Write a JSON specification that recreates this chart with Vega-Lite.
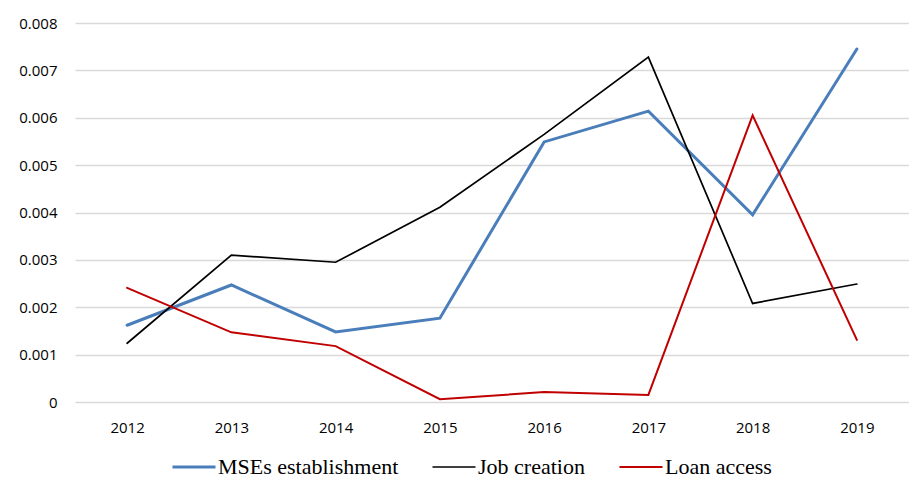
{
  "$schema": "https://vega.github.io/schema/vega-lite/v6.json",
  "width": 834,
  "height": 379,
  "autosize": {"type": "none"},
  "padding": {"left": 75, "top": 23, "right": 0, "bottom": 77},
  "background": "white",
  "config": {"view": {"stroke": null}},
  "data": {"values": [
    {"year": "2012", "series": "MSEs establishment", "value": 0.00162},
    {"year": "2013", "series": "MSEs establishment", "value": 0.00247},
    {"year": "2014", "series": "MSEs establishment", "value": 0.00148},
    {"year": "2015", "series": "MSEs establishment", "value": 0.00177},
    {"year": "2016", "series": "MSEs establishment", "value": 0.00549},
    {"year": "2017", "series": "MSEs establishment", "value": 0.00614},
    {"year": "2018", "series": "MSEs establishment", "value": 0.00395},
    {"year": "2019", "series": "MSEs establishment", "value": 0.00745},
    {"year": "2012", "series": "Job creation", "value": 0.00124},
    {"year": "2013", "series": "Job creation", "value": 0.0031},
    {"year": "2014", "series": "Job creation", "value": 0.00295},
    {"year": "2015", "series": "Job creation", "value": 0.00411},
    {"year": "2016", "series": "Job creation", "value": 0.00565},
    {"year": "2017", "series": "Job creation", "value": 0.00728},
    {"year": "2018", "series": "Job creation", "value": 0.00208},
    {"year": "2019", "series": "Job creation", "value": 0.00249},
    {"year": "2012", "series": "Loan access", "value": 0.00241},
    {"year": "2013", "series": "Loan access", "value": 0.00147},
    {"year": "2014", "series": "Loan access", "value": 0.00118},
    {"year": "2015", "series": "Loan access", "value": 0.00006},
    {"year": "2016", "series": "Loan access", "value": 0.00021},
    {"year": "2017", "series": "Loan access", "value": 0.00015},
    {"year": "2018", "series": "Loan access", "value": 0.00605},
    {"year": "2019", "series": "Loan access", "value": 0.00131}
  ]},
  "mark": {"type": "line", "strokeCap": "round"},
  "encoding": {
    "x": {
      "field": "year", "type": "ordinal", "title": null,
      "axis": {"labelAngle": 0, "labelFont": "Open Sans", "labelFontSize": 15, "labelColor": "#000", "ticks": false, "domain": false, "grid": false, "labelPadding": 18}
    },
    "y": {
      "field": "value", "type": "quantitative", "title": null,
      "scale": {"domain": [0, 0.008], "nice": false},
      "axis": {"values": [0, 0.001, 0.002, 0.003, 0.004, 0.005, 0.006, 0.007, 0.008], "format": "~g", "labelFont": "Open Sans", "labelFontSize": 15, "labelColor": "#000", "ticks": false, "domain": false, "gridColor": "#d9d9d9", "gridWidth": 1.3, "labelPadding": 18}
    },
    "color": {
      "field": "series", "type": "nominal", "title": null,
      "scale": {"domain": ["MSEs establishment", "Job creation", "Loan access"], "range": ["#4a7ebb", "#000000", "#c00000"]},
      "legend": {"orient": "none", "legendX": 108, "legendY": 433, "direction": "horizontal", "labelFont": "Liberation Serif", "labelFontSize": 22, "labelLimit": 400, "labelColor": "#000", "symbolType": "stroke", "symbolSize": 1850, "columnPadding": 30, "labelOffset": 13,
        "encode": {"symbols": {"update": {"strokeWidth": {"signal": "datum.value === 'MSEs establishment' ? 3 : (datum.value === 'Loan access' ? 2 : 1.7)"}}}}}
    },
    "strokeWidth": {
      "condition": [
        {"test": "datum.series === 'MSEs establishment'", "value": 3},
        {"test": "datum.series === 'Loan access'", "value": 2}
      ],
      "value": 1.7
    }
  }
}
